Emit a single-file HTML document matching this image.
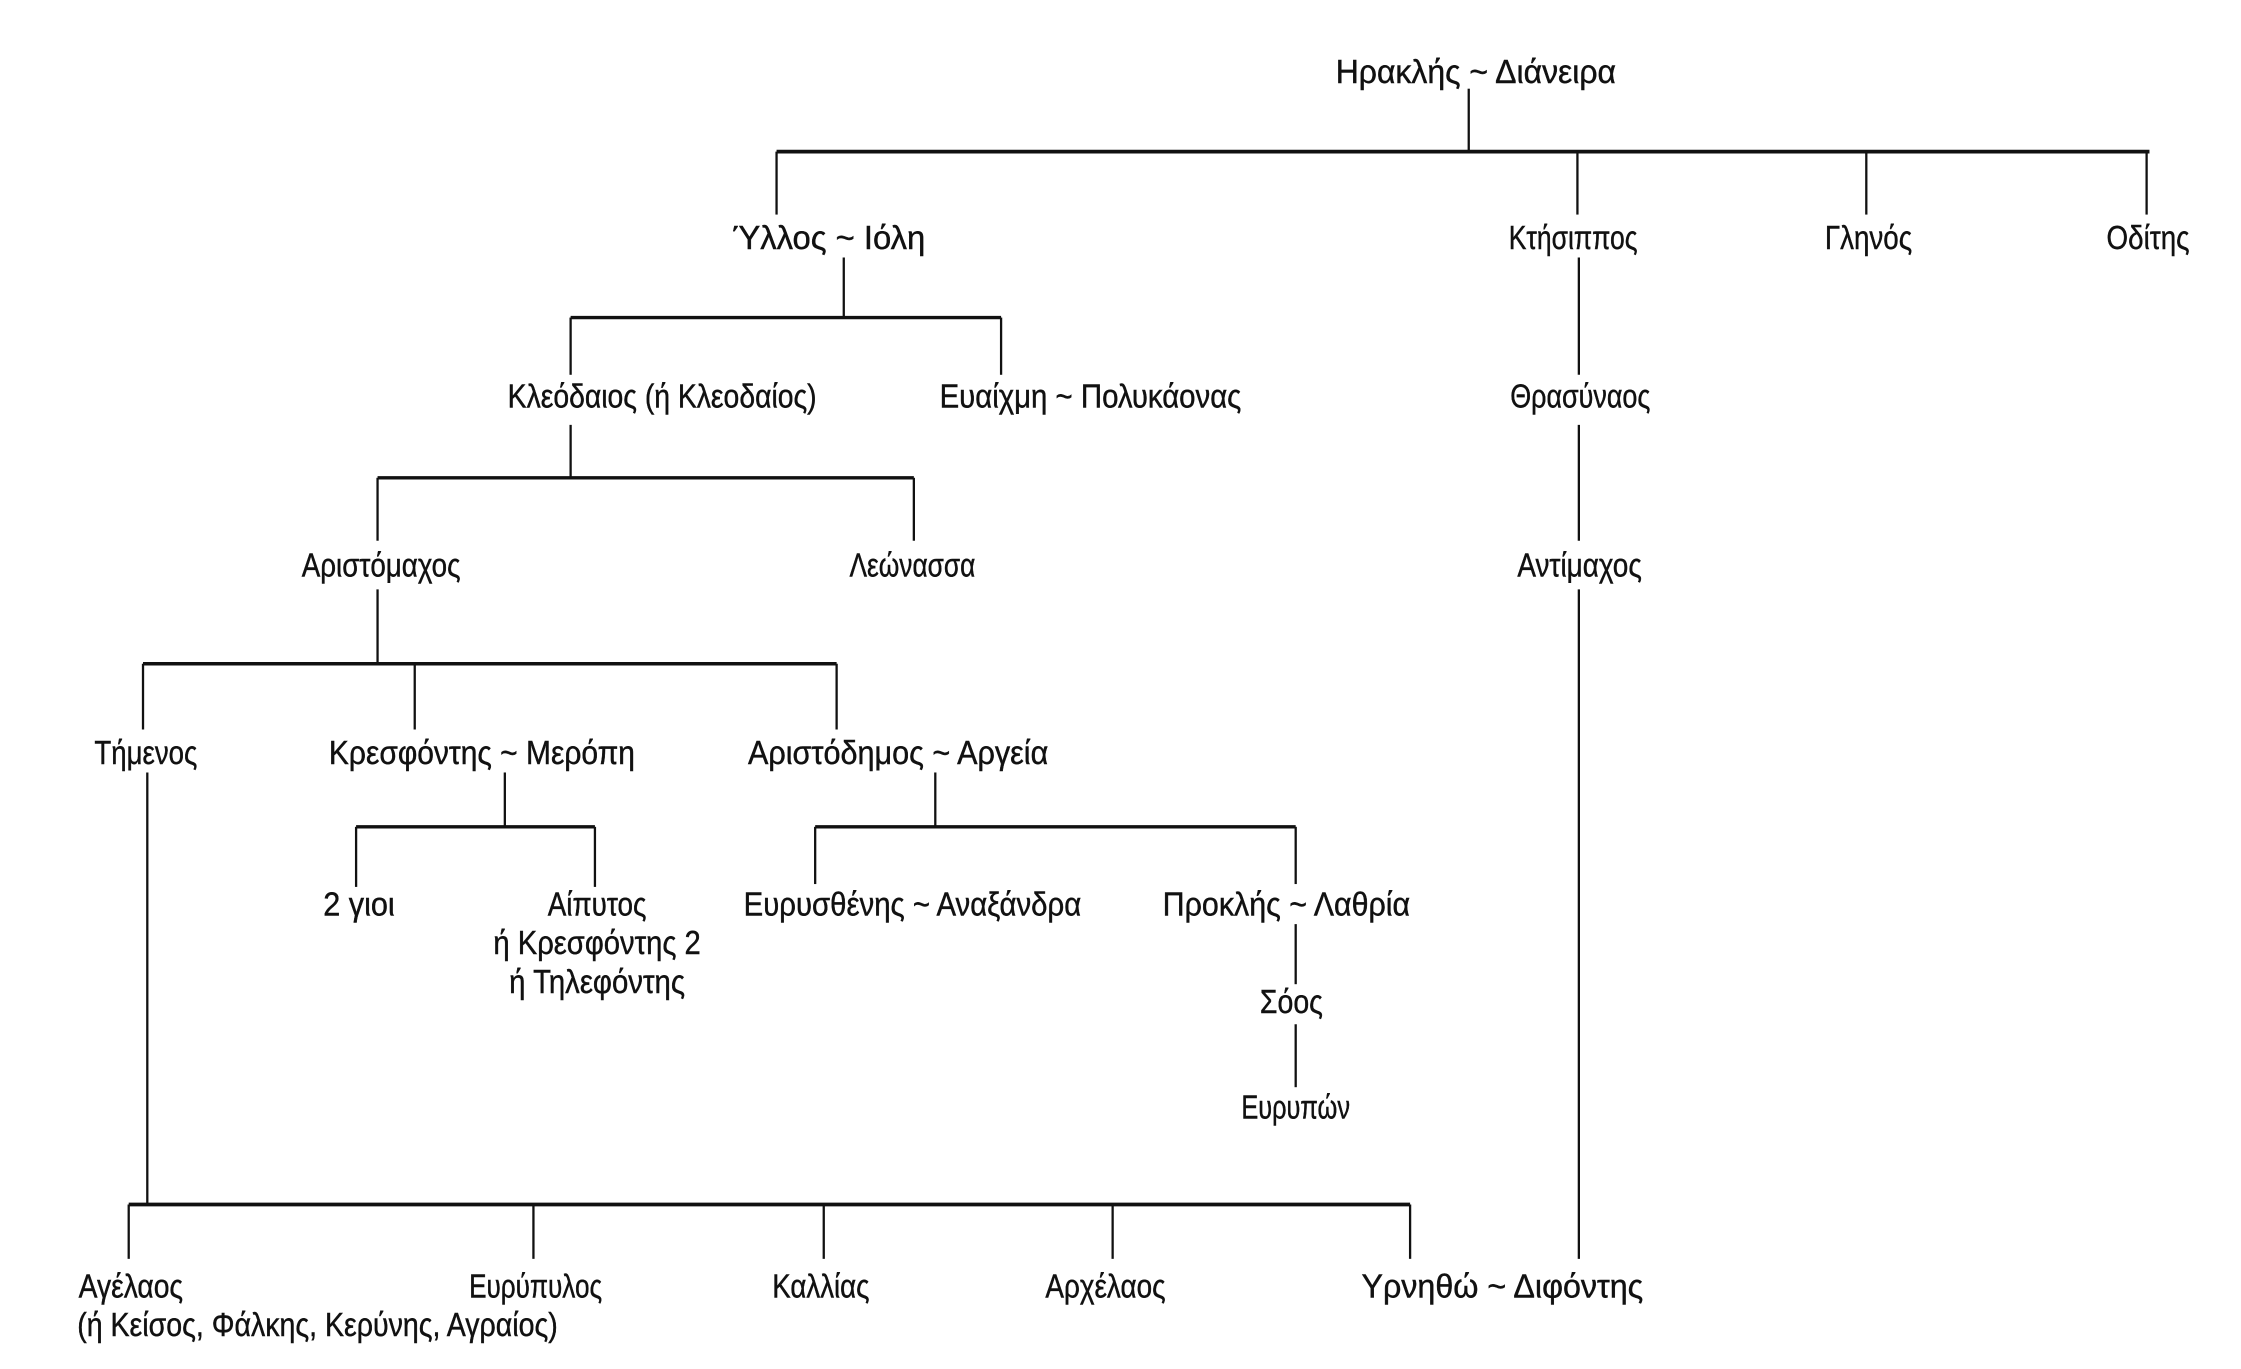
<!DOCTYPE html>
<html><head><meta charset="utf-8"><style>html,body{margin:0;padding:0;background:#fff}svg{display:block}</style></head>
<body>
<svg width="2241" height="1369" viewBox="0 0 1567 957" preserveAspectRatio="none" xmlns="http://www.w3.org/2000/svg">
<g stroke="#111" stroke-width="1.6" fill="none">
<line x1="1027" y1="62" x2="1027" y2="106"/>
<line x1="543" y1="106" x2="1503" y2="106" stroke-width="2.6"/>
<line x1="543" y1="106" x2="543" y2="150"/>
<line x1="1103" y1="106" x2="1103" y2="150"/>
<line x1="1305" y1="106" x2="1305" y2="150"/>
<line x1="1501" y1="106" x2="1501" y2="150"/>
<line x1="590" y1="180" x2="590" y2="222"/>
<line x1="399" y1="222" x2="700" y2="222" stroke-width="2.4"/>
<line x1="399" y1="222" x2="399" y2="262"/>
<line x1="700" y1="222" x2="700" y2="262"/>
<line x1="399" y1="297" x2="399" y2="334"/>
<line x1="264" y1="334" x2="639" y2="334" stroke-width="2.4"/>
<line x1="264" y1="334" x2="264" y2="378"/>
<line x1="639" y1="334" x2="639" y2="378"/>
<line x1="1104" y1="180" x2="1104" y2="262"/>
<line x1="1104" y1="297" x2="1104" y2="378"/>
<line x1="1104" y1="412" x2="1104" y2="880"/>
<line x1="264" y1="412" x2="264" y2="464"/>
<line x1="100" y1="464" x2="585" y2="464" stroke-width="2.4"/>
<line x1="100" y1="464" x2="100" y2="510"/>
<line x1="290" y1="464" x2="290" y2="510"/>
<line x1="585" y1="464" x2="585" y2="510"/>
<line x1="353" y1="540" x2="353" y2="578"/>
<line x1="249" y1="578" x2="416" y2="578" stroke-width="2.4"/>
<line x1="249" y1="578" x2="249" y2="620"/>
<line x1="416" y1="578" x2="416" y2="620"/>
<line x1="654" y1="540" x2="654" y2="578"/>
<line x1="570" y1="578" x2="906" y2="578" stroke-width="2.4"/>
<line x1="570" y1="578" x2="570" y2="618"/>
<line x1="906" y1="578" x2="906" y2="618"/>
<line x1="906" y1="646" x2="906" y2="688"/>
<line x1="906" y1="716" x2="906" y2="760"/>
<line x1="103" y1="540" x2="103" y2="842"/>
<line x1="90" y1="842" x2="986" y2="842" stroke-width="2.6"/>
<line x1="90" y1="842" x2="90" y2="880"/>
<line x1="373" y1="842" x2="373" y2="880"/>
<line x1="576" y1="842" x2="576" y2="880"/>
<line x1="778" y1="842" x2="778" y2="880"/>
<line x1="986" y1="842" x2="986" y2="880"/>
</g>
<g font-family="Liberation Sans, DejaVu Sans, sans-serif" font-size="23" fill="#111" stroke="#111" stroke-width="0.3">
<text x="934" y="58" textLength="196" lengthAdjust="spacingAndGlyphs">Ηρακλής ~ Διάνειρα</text>
<text x="512" y="174" textLength="135" lengthAdjust="spacingAndGlyphs">Ύλλος ~ Ιόλη</text>
<text x="1055" y="174" textLength="90" lengthAdjust="spacingAndGlyphs">Κτήσιππος</text>
<text x="1276" y="174" textLength="61" lengthAdjust="spacingAndGlyphs">Γληνός</text>
<text x="1473" y="174" textLength="58" lengthAdjust="spacingAndGlyphs">Οδίτης</text>
<text x="355" y="285" textLength="216" lengthAdjust="spacingAndGlyphs">Κλεόδαιος (ή Κλεοδαίος)</text>
<text x="657" y="285" textLength="211" lengthAdjust="spacingAndGlyphs">Ευαίχμη ~ Πολυκάονας</text>
<text x="1056" y="285" textLength="98" lengthAdjust="spacingAndGlyphs">Θρασύναος</text>
<text x="211" y="403" textLength="111" lengthAdjust="spacingAndGlyphs">Αριστόμαχος</text>
<text x="594" y="403" textLength="88" lengthAdjust="spacingAndGlyphs">Λεώνασσα</text>
<text x="1061" y="403" textLength="87" lengthAdjust="spacingAndGlyphs">Αντίμαχος</text>
<text x="66" y="534" textLength="72" lengthAdjust="spacingAndGlyphs">Τήμενος</text>
<text x="230" y="534" textLength="214" lengthAdjust="spacingAndGlyphs">Κρεσφόντης ~ Μερόπη</text>
<text x="523" y="534" textLength="210" lengthAdjust="spacingAndGlyphs">Αριστόδημος ~ Αργεία</text>
<text x="226" y="640" textLength="50" lengthAdjust="spacingAndGlyphs">2 γιοι</text>
<text x="383" y="640" textLength="69" lengthAdjust="spacingAndGlyphs">Αίπυτος</text>
<text x="345" y="667" textLength="145" lengthAdjust="spacingAndGlyphs">ή Κρεσφόντης 2</text>
<text x="356" y="694" textLength="123" lengthAdjust="spacingAndGlyphs">ή Τηλεφόντης</text>
<text x="520" y="640" textLength="236" lengthAdjust="spacingAndGlyphs">Ευρυσθένης ~ Αναξάνδρα</text>
<text x="813" y="640" textLength="173" lengthAdjust="spacingAndGlyphs">Προκλής ~ Λαθρία</text>
<text x="881" y="708" textLength="44" lengthAdjust="spacingAndGlyphs">Σόος</text>
<text x="868" y="782" textLength="76" lengthAdjust="spacingAndGlyphs">Ευρυπών</text>
<text x="55" y="907" textLength="73" lengthAdjust="spacingAndGlyphs">Αγέλαος</text>
<text x="54" y="934" textLength="336" lengthAdjust="spacingAndGlyphs">(ή Κείσος, Φάλκης, Κερύνης, Αγραίος)</text>
<text x="328" y="907" textLength="93" lengthAdjust="spacingAndGlyphs">Ευρύπυλος</text>
<text x="540" y="907" textLength="68" lengthAdjust="spacingAndGlyphs">Καλλίας</text>
<text x="731" y="907" textLength="84" lengthAdjust="spacingAndGlyphs">Αρχέλαος</text>
<text x="952" y="907" textLength="197" lengthAdjust="spacingAndGlyphs">Υρνηθώ ~ Διφόντης</text>
</g>
</svg>
</body></html>
